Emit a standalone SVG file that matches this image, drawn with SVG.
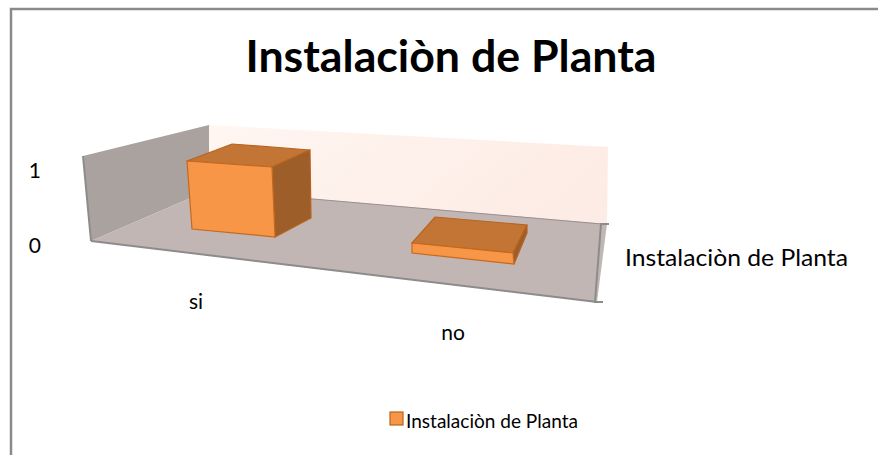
<svg xmlns="http://www.w3.org/2000/svg" width="878" height="455" viewBox="0 0 878 455">
<defs>
<style>
text{font-family:Lato,"Open Sans","Liberation Sans",sans-serif;fill:#000}
.lbl{font-size:21px}
.edge{stroke:#8c8c8c;stroke-width:2;fill:none}
.front{fill:#f79646;stroke:#c5691f;stroke-width:1.2}
.top{fill:#c37535;stroke:#b8641f;stroke-width:1.2}
.side{fill:#9d5e2a;stroke:#b8641f;stroke-width:1.2}
</style>
<linearGradient id="bw" x1="0" y1="0" x2="1" y2="0.3">
<stop offset="0" stop-color="#fff6f2"/>
<stop offset="1" stop-color="#fdece5"/>
</linearGradient>
</defs>
<rect width="878" height="455" fill="#fff"/>
<path d="M11,455 V9 H878" fill="none" stroke="#8a8a8a" stroke-width="2.5"/>

<g id="title"><text x="451" y="72" font-size="43" font-weight="bold" text-anchor="middle" textLength="411" lengthAdjust="spacingAndGlyphs">Instalaciòn de Planta</text></g>

<g id="plot">
<polygon points="209,125 608,147 607,224 209,190" fill="url(#bw)"/>
<polygon points="83,156 209,125 209,190 91,241" fill="#a9a29f"/>
<polygon points="91,241 209,190 607,224 597,302" fill="#c1b6b3"/>
<line x1="209" y1="190" x2="602" y2="224" stroke="#9a9090" stroke-width="1"/>
<line class="edge" x1="83" y1="156" x2="91" y2="241"/>
<line class="edge" x1="91" y1="241" x2="597" y2="302"/>
<polyline class="edge" points="609,224 601,224 595,302 603,302"/>
</g>

<g id="bar-si">
<polygon class="top" points="187,161 232,144 310,150 272,167"/>
<polygon class="side" points="272,167 310,150 311,218 275,237"/>
<polygon class="front" points="187,161 272,167 275,237 192,229"/>
</g>

<g id="bar-no">
<polygon class="top" points="412,243 435,217 527,225 513,253"/>
<polygon class="side" points="513,253 527,225 527,233 514,264"/>
<polygon class="front" points="412,243 513,253 514,264 412,253"/>
</g>

<g id="labels">
<text class="lbl" x="41" y="178" text-anchor="end">1</text>
<text class="lbl" x="41" y="253" text-anchor="end">0</text>
<text class="lbl" x="196" y="309" text-anchor="middle">si</text>
<text class="lbl" x="453" y="340" text-anchor="middle">no</text>
<text x="625" y="266" font-size="23" textLength="223" lengthAdjust="spacingAndGlyphs">Instalaciòn de Planta</text>
</g>

<g id="legend">
<rect x="390" y="412" width="13" height="13" fill="#f79646" stroke="#b8641f" stroke-width="1.2"/>
<text x="406" y="428" font-size="20" textLength="172" lengthAdjust="spacingAndGlyphs">Instalaciòn de Planta</text>
</g>
</svg>
